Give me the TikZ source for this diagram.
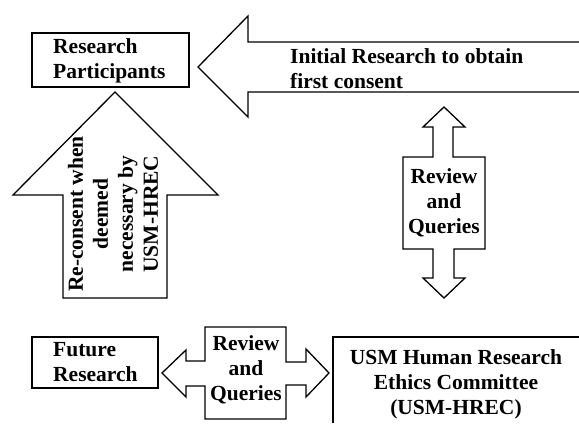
\documentclass[tikz,border=0pt]{standalone}
\usepackage{fontspec}
\setmainfont{Liberation Serif}
\begin{document}
\begin{tikzpicture}[x=1pt,y=-1pt,
  outl/.style={draw=black,line width=1.3pt,line join=miter,fill=white},
  lbl/.style={font=\fontsize{21.5}{25}\selectfont\bfseries,inner sep=0pt},
]
\useasboundingbox (0,0) rectangle (579,431);
% boxes
\draw[outl] (32,33) rectangle (189,87);
\draw[outl] (32,337) rectangle (158,388);
\draw[outl] (579,337) -- (333,337) -- (333,423);
% big left arrow
\draw[outl] (580,42) -- (248,42) -- (248,16) -- (198,67) -- (248,117) -- (248,92) -- (580,92);
% up arrow
\draw[outl] (63,298) -- (63,195) -- (13,195) -- (115,92) -- (218,195) -- (167,195) -- (167,298) -- cycle;
% vertical double arrow
\draw[outl] (403,157) -- (433,157) -- (433,127) -- (423,127) -- (444,107) -- (465,127) -- (453,127) -- (453,157) -- (485,157)
  -- (485,249) -- (454,249) -- (454,278) -- (465,278) -- (444,298) -- (423,278) -- (433,278) -- (433,249) -- (403,249) -- cycle;
% horizontal double arrow
\draw[outl] (205,327) -- (286,327) -- (286,362) -- (306,362) -- (306,349) -- (329,373) -- (306,397) -- (306,385) -- (286,385)
  -- (286,419) -- (205,419) -- (205,386) -- (186,386) -- (186,397) -- (162,373) -- (186,350) -- (186,361) -- (205,361) -- cycle;
% texts (base anchor = baseline of last line)
\node[lbl,anchor=base west,align=left] (rp) at (53,78) {Research\\Participants};
\node[lbl,anchor=base west,align=left] (ir) at (290,88) {Initial Research to obtain\\first consent};
\node[lbl,anchor=base west,align=left] (fr) at (53,381) {Future\\Research};
\node[lbl,anchor=base,align=center] (rq1) at (444,233) {Review\\and\\Queries};
\node[lbl,anchor=base,align=center] (rq2) at (246,400) {Review\\and\\Queries};
\node[lbl,anchor=base,align=center] (hr) at (456,414) {USM Human Research\\Ethics Committee\\(USM-HREC)};
\node[lbl,align=center,rotate=90] (rc) at (113,214) {Re-consent when\\deemed\\necessary by\\USM-HREC};
\end{tikzpicture}
\end{document}
